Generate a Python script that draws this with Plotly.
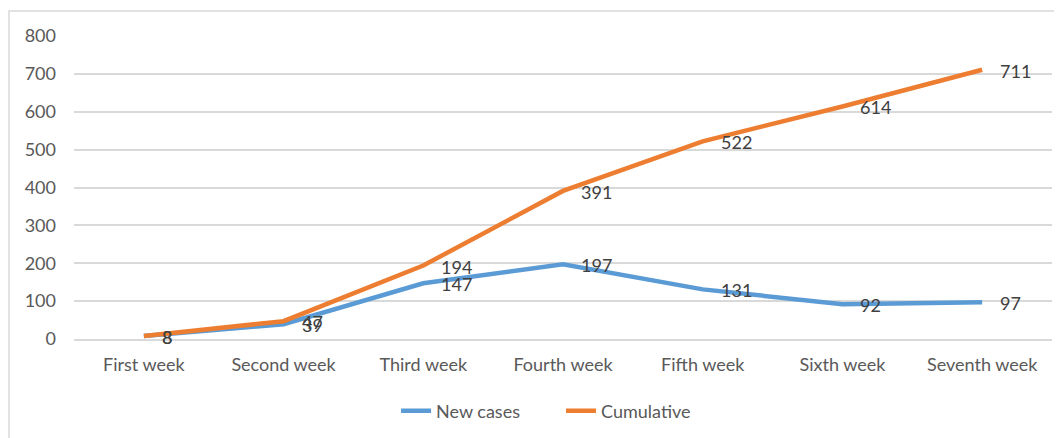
import plotly.graph_objects as go

weeks = ["First week", "Second week", "Third week", "Fourth week", "Fifth week", "Sixth week", "Seventh week"]
new_cases = [8, 39, 147, 197, 131, 92, 97]
cumulative = [8, 47, 194, 391, 522, 614, 711]
y_ticks = [0, 100, 200, 300, 400, 500, 600, 700, 800]

BLUE = "#5B9BD5"
ORANGE = "#ED7D31"
TXT = "#595959"
GRID = "#D9D9D9"
FONT = "Lato"
FS = 18

fig = go.Figure()
fig.add_trace(go.Scatter(x=weeks, y=new_cases, mode="lines", name="New cases",
                         line=dict(color=BLUE, width=4.5)))
fig.add_trace(go.Scatter(x=weeks, y=cumulative, mode="lines", name="Cumulative",
                         line=dict(color=ORANGE, width=4.5)))

annotations = []
for series in (new_cases, cumulative):
    for w, v in zip(weeks, series):
        annotations.append(dict(x=w, y=v, xref="x", yref="y", text=str(v), showarrow=False,
                                xanchor="left", yanchor="middle", xshift=16, yshift=-1,
                                font=dict(family=FONT, size=FS, color="#404040")))

# page has an 8px body margin; figure drawn from page (8, 8)
OFF = 8
L, R, T, B = 74 - OFF, 10, 36 - OFF, 98
W, H = 1062 - OFF, 438 - OFF
pw, ph = W - L - R, H - T - B

fig.update_layout(
    width=W, height=H,
    margin=dict(l=L, r=R, t=T, b=B),
    paper_bgcolor="white", plot_bgcolor="white",
    font=dict(family=FONT, size=FS, color=TXT),
    showlegend=True,
    legend=dict(orientation="h", x=0.498, xanchor="center", y=(340 - 411) / ph, yanchor="middle",
                font=dict(family=FONT, size=FS, color=TXT), itemwidth=30, traceorder="normal",
                entrywidth=120),
    annotations=annotations,
    shapes=[dict(type="rect", xref="paper", yref="paper",
                 x0=(9 - 74) / pw, x1=(1061 - 74) / pw, y0=(340 - 445) / ph, y1=1 + (36 - 11) / ph,
                 line=dict(color=GRID, width=1.5), fillcolor="rgba(0,0,0,0)", layer="below")],
)
fig.update_xaxes(type="category", range=[-0.5, 6.5], showgrid=False, showline=True,
                 linecolor=GRID, linewidth=1.5, ticks="", tickfont=dict(size=FS, color=TXT),
                 ticklabelstandoff=9)
fig.update_yaxes(range=[0, 800], tickvals=y_ticks, showgrid=True, gridcolor=GRID, gridwidth=1.5,
                 zeroline=False, showline=False, ticks="", tickfont=dict(size=FS, color=TXT),
                 ticklabelstandoff=17)

fig.write_html("out.html")
